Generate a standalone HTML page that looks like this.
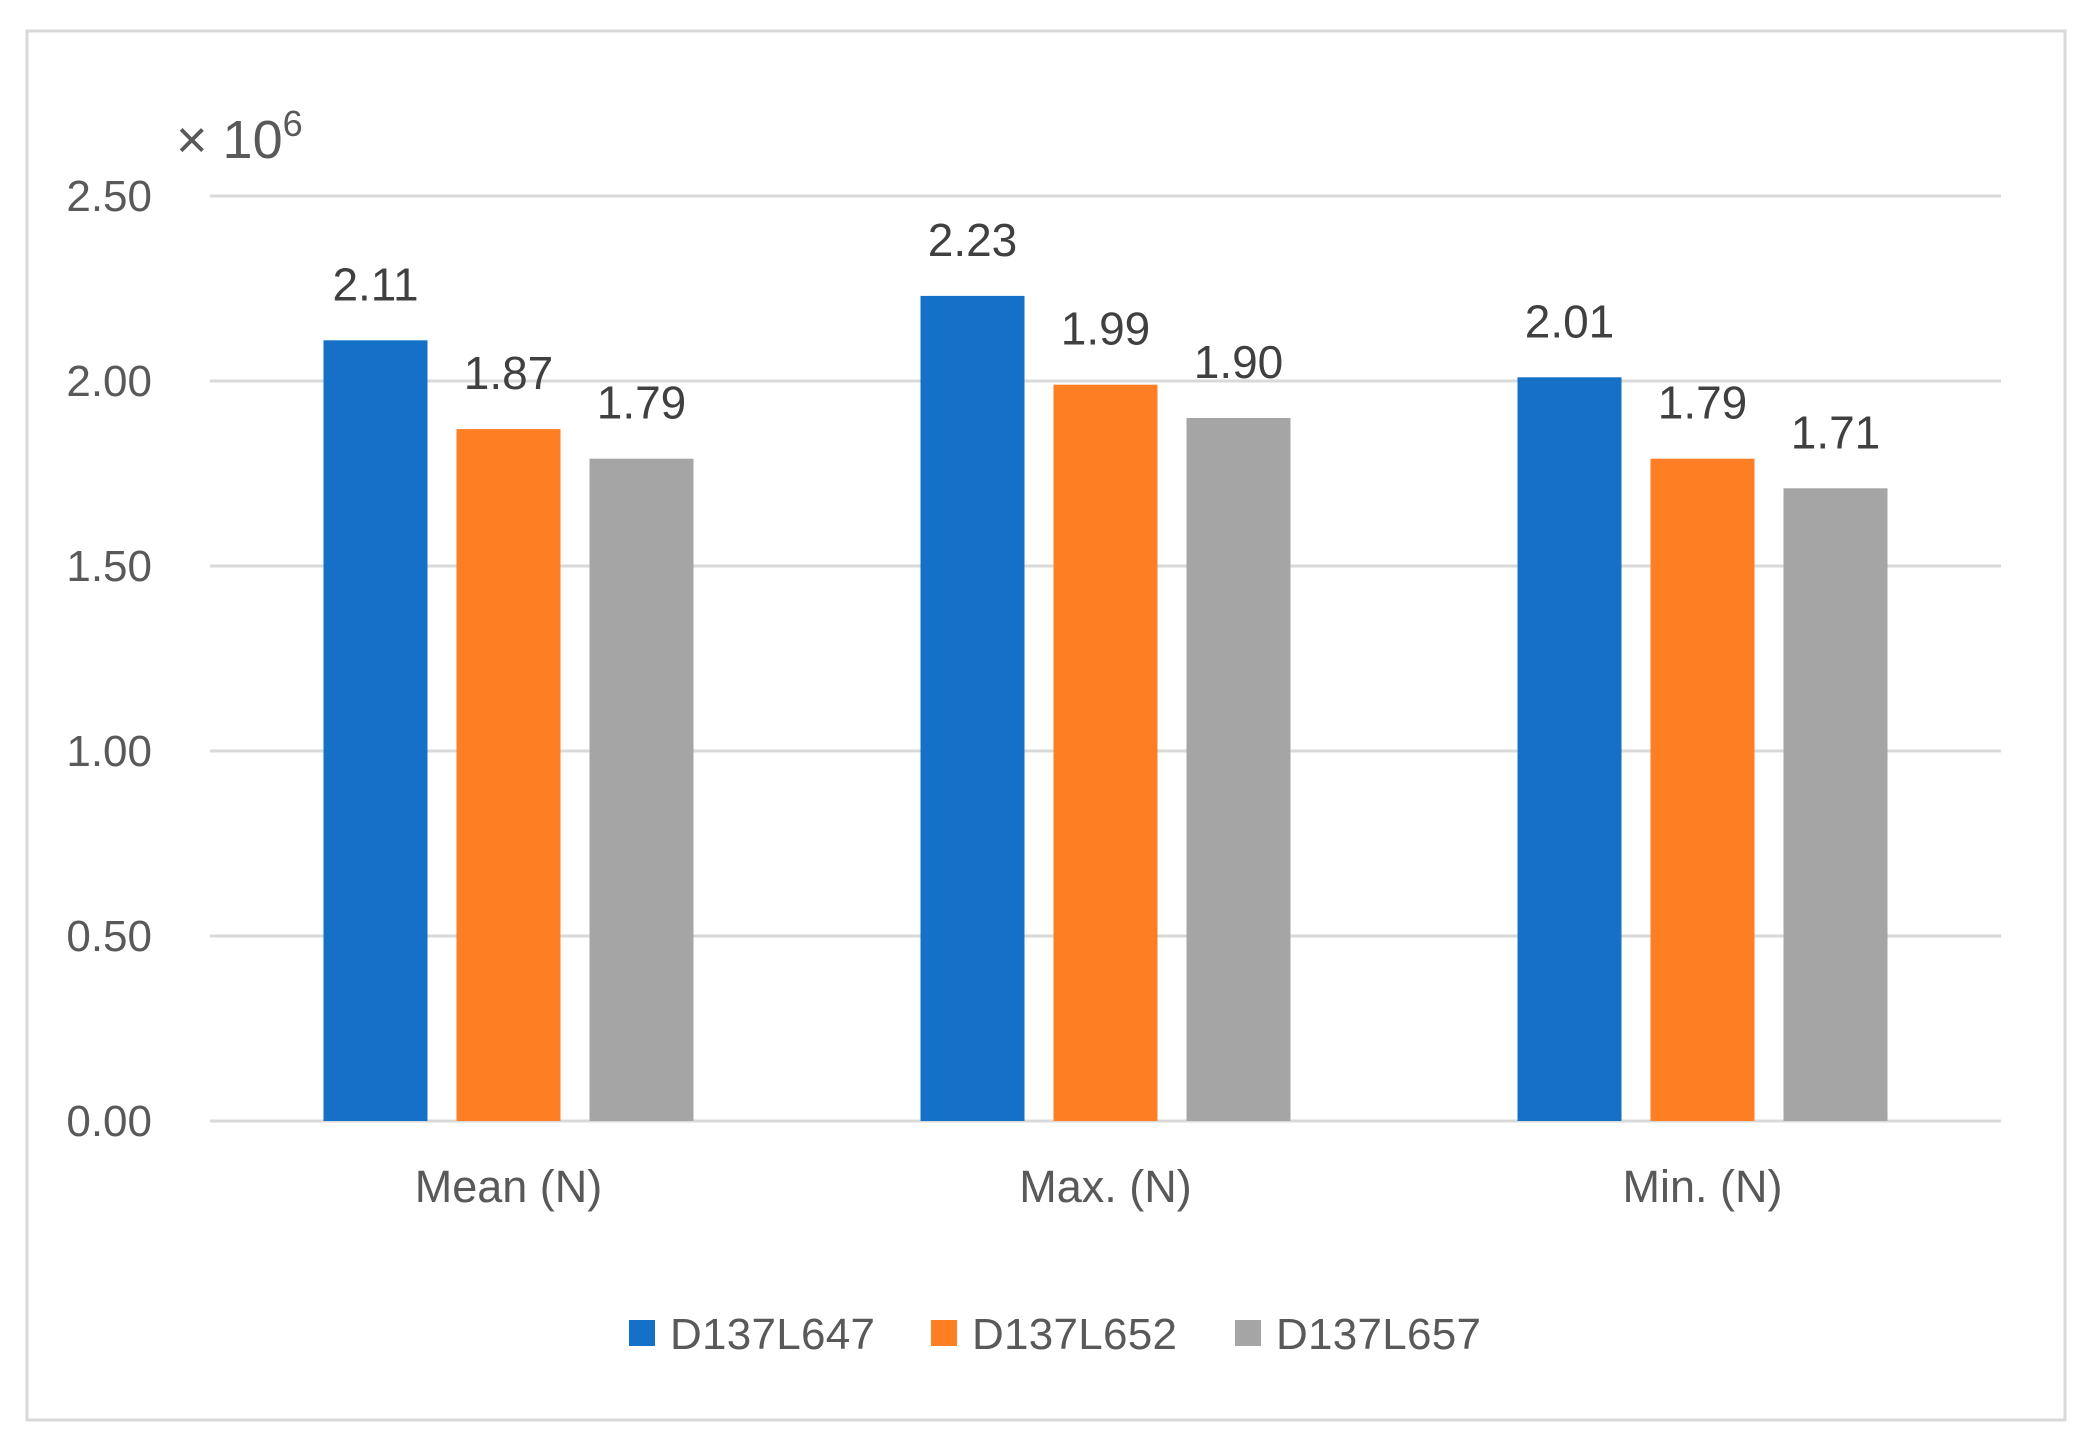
<!DOCTYPE html>
<html><head><meta charset="utf-8"><style>
html,body{margin:0;padding:0;background:#fff;}
svg{display:block;font-family:"Liberation Sans",sans-serif;}
</style></head><body>
<svg id="chart" width="2085" height="1447" viewBox="0 0 2085 1447" xmlns="http://www.w3.org/2000/svg">
<rect x="27" y="31" width="2038" height="1389" fill="#fff" stroke="#d9d9d9" stroke-width="3"/>
<g id="grid"></g>
<g id="yaxis"></g>
<text x="176" y="158" font-size="54" fill="#595959">× 10<tspan dy="-22" font-size="36">6</tspan></text>
<g id="bars"></g>
<g id="xaxis"></g>
<g id="legend"></g>
</svg>
<script>
const categories = ["Mean (N)", "Max. (N)", "Min. (N)"];
const seriesNames = ["D137L647", "D137L652", "D137L657"];
const seriesA = [2.11, 2.23, 2.01];
const seriesB = [1.87, 1.99, 1.79];
const seriesC = [1.79, 1.90, 1.71];
const yTicks = [0, 0.5, 1.0, 1.5, 2.0, 2.5];
const yTickLabels = ["0.00", "0.50", "1.00", "1.50", "2.00", "2.50"];

const colors = ["#1570c8", "#fd7e23", "#a5a5a5"];
const series = [seriesA, seriesB, seriesC];
const NS = "http://www.w3.org/2000/svg";
const plotL = 210, plotR = 2001, plotTop = 196, plotBot = 1121, yMax = 2.5;
const y = v => plotBot - (v / yMax) * (plotBot - plotTop);
const catW = (plotR - plotL) / categories.length;
const xc = i => plotL + catW * (i + 0.5);
const barW = 104, step = 133;
function mk(tag, attrs, parent) {
  const e = document.createElementNS(NS, tag);
  for (const k in attrs) e.setAttribute(k, attrs[k]);
  parent.appendChild(e);
  return e;
}
const grid = document.getElementById('grid'), yaxis = document.getElementById('yaxis');
yTicks.forEach((t, i) => {
  const l = mk('line', {x1: plotL, x2: plotR, y1: y(t), y2: y(t), stroke: '#d9d9d9', 'stroke-width': 3}, grid);
  
  
  const tx = mk('text', {x: 152, y: y(t) + 15, 'text-anchor': 'end', 'font-size': 44, fill: '#595959'}, yaxis);
  tx.textContent = yTickLabels[i];
  
  
});
const bars = document.getElementById('bars'), xaxis = document.getElementById('xaxis');
categories.forEach((c, i) => {
  series.forEach((s, j) => {
    const cx = xc(i) + (j - 1) * step;
    const r = mk('rect', {x: cx - barW / 2, y: y(s[i]), width: barW, height: plotBot - y(s[i]), fill: colors[j]}, bars);
    
    
    const lb = mk('text', {x: cx, y: y(s[i]) - 40, 'text-anchor': 'middle', 'font-size': 46, fill: '#404040'}, bars);
    lb.textContent = s[i].toFixed(2);
    
    
  });
  const ct = mk('text', {x: xc(i), y: 1202, 'text-anchor': 'middle', 'font-size': 45, fill: '#595959'}, xaxis);
  ct.textContent = c;
  
  
});
const legend = document.getElementById('legend');
const legX = [629, 931, 1235];
seriesNames.forEach((n, j) => {
  const g = mk('g', {}, legend);
  
  
  mk('rect', {x: legX[j], y: 1320, width: 26, height: 26, fill: colors[j]}, g);
  const t = mk('text', {x: legX[j] + 41, y: 1349, 'font-size': 44, fill: '#595959', textLength: 205}, g);
  t.textContent = n;
});
</script>
</body></html>
